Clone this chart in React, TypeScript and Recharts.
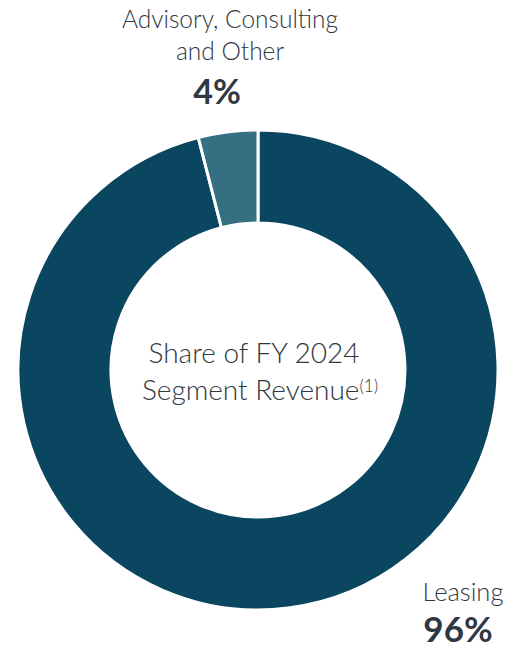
import { PieChart, Pie, Cell } from "recharts";

const segments = ["Leasing", "Advisory, Consulting and Other"];
const shares = [96, 4];
const colors = ["#0b4660", "#346f82"];

const data = segments.map((name, i) => ({ name, value: shares[i] }));

const textColor = "#2f3742";
const font = "Lato, 'Open Sans', sans-serif";

export default function App() {
  return (
    <div style={{ position: "relative", width: 507, height: 649, overflow: "hidden", fontFamily: font, color: textColor }}>
      <style>{`body{margin:0}`}</style>
      <PieChart width={507} height={649} margin={{ top: 0, right: 0, bottom: 0, left: 0 }}>
        <Pie
          data={data}
          dataKey="value"
          cx={258}
          cy={370}
          innerRadius={147}
          outerRadius={240}
          startAngle={90}
          endAngle={-270}
          isAnimationActive={false}
          stroke="#ffffff"
          strokeWidth={3}
        >
          {data.map((d, i) => (
            <Cell key={d.name} fill={colors[i]} />
          ))}
        </Pie>
      </PieChart>

      {/* Advisory label */}
      <div style={{ position: "absolute", left: 100, width: 260, top: 3, textAlign: "center", fontSize: 24.5, fontWeight: 300, lineHeight: "32px" }}>
        Advisory, Consulting
        <br />
        and Other
      </div>
      <div style={{ position: "absolute", left: 157, width: 120, top: 70, textAlign: "center", fontSize: 34, fontWeight: 700, lineHeight: "42px" }}>
        {shares[1]}%
      </div>

      {/* Leasing label */}
      <div style={{ position: "absolute", left: 403, width: 120, top: 576, textAlign: "center", fontSize: 25.5, fontWeight: 300, lineHeight: "30px" }}>
        {segments[0]}
      </div>
      <div style={{ position: "absolute", left: 398, width: 120, top: 608, textAlign: "center", fontSize: 35, fontWeight: 700, lineHeight: "40px" }}>
        {shares[0]}%
      </div>

      {/* Center */}
      <div style={{ position: "absolute", left: 104, width: 300, top: 334, textAlign: "center", fontSize: 28, fontWeight: 300, lineHeight: "37px" }}>
        Share of FY 2024
        <br />
        <span style={{ position: "relative", left: 6 }}>
          Segment Revenue<sup style={{ fontSize: 17, verticalAlign: "top", lineHeight: "30px" }}>(1)</sup>
        </span>
      </div>
    </div>
  );
}
